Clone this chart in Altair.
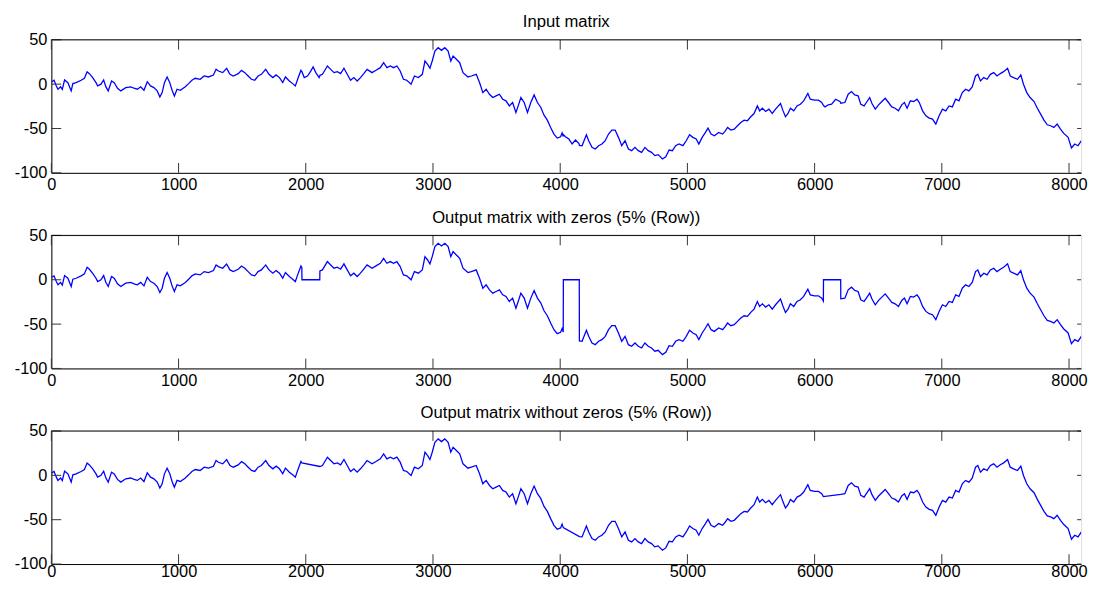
import altair as alt
import pandas as pd

# ---- data (sample index, value) ----
T = [0, 21, 39, 52, 73, 86, 104, 130, 156, 169, 195, 234, 260, 281, 299, 325, 351, 364, 390, 411,
     429, 447, 473, 494, 520, 546, 585, 624, 650, 676, 702, 728, 754, 780, 806, 832, 853, 871, 889, 910,
     931, 949, 967, 988, 1014, 1053, 1079, 1105, 1131, 1170, 1201, 1235, 1274, 1295, 1313, 1347, 1378,
     1404, 1430, 1469, 1495, 1521, 1547, 1573, 1599, 1625, 1651, 1685, 1711, 1741, 1767, 1793, 1819,
     1840, 1871, 1897, 1918, 1936, 1962, 1969, 1970, 1988, 2014, 2040, 2058, 2079, 2105, 2110, 2111,
     2131, 2170, 2196, 2222, 2248, 2274, 2300, 2326, 2352, 2378, 2404, 2430, 2456, 2482, 2521, 2552,
     2586, 2612, 2638, 2664, 2690, 2716, 2742, 2768, 2794, 2828, 2854, 2885, 2916, 2937, 2958, 2976,
     2994, 3015, 3041, 3067, 3093, 3119, 3140, 3158, 3184, 3210, 3236, 3275, 3301, 3340, 3366, 3392,
     3418, 3444, 3470, 3496, 3522, 3548, 3574, 3600, 3626, 3652, 3670, 3691, 3717, 3743, 3769, 3795,
     3821, 3847, 3873, 3899, 3925, 3951, 3977, 4003, 4015, 4024, 4025, 4042, 4068, 4094, 4120, 4146,
     4150, 4151, 4172, 4206, 4224, 4250, 4276, 4302, 4328, 4354, 4380, 4406, 4432, 4458, 4484, 4510,
     4536, 4562, 4588, 4614, 4640, 4666, 4692, 4718, 4744, 4770, 4804, 4830, 4856, 4882, 4908, 4934,
     4965, 4991, 5017, 5043, 5069, 5090, 5116, 5142, 5162, 5186, 5212, 5246, 5277, 5298, 5316, 5342,
     5368, 5394, 5420, 5446, 5472, 5498, 5524, 5550, 5568, 5589, 5615, 5641, 5667, 5693, 5732, 5750,
     5771, 5791, 5810, 5836, 5862, 5888, 5914, 5947, 5966, 5999, 6030, 6056, 6069, 6070, 6082, 6108,
     6134, 6165, 6199, 6205, 6206, 6238, 6264, 6290, 6316, 6342, 6363, 6389, 6407, 6433, 6451, 6477,
     6503, 6529, 6555, 6581, 6607, 6633, 6659, 6685, 6706, 6727, 6753, 6779, 6805, 6823, 6849, 6875,
     6901, 6927, 6953, 6979, 7005, 7031, 7057, 7083, 7109, 7135, 7161, 7187, 7213, 7239, 7265, 7283,
     7304, 7330, 7356, 7382, 7408, 7434, 7460, 7486, 7517, 7538, 7564, 7595, 7621, 7642, 7668, 7694,
     7725, 7751, 7777, 7803, 7829, 7855, 7881, 7907, 7933, 7959, 7993, 8019, 8045, 8071, 8097, 8123,
     8141, 8157, 8191]
V = [2.5, 4.4, -2, -5.7, -3, -6, 4.7, 1.7, -7.6, 0.6, 1.7, 4.4, 6.6, 14, 11.8, 7.3, 1.7, -2, 0, 4.7,
     -3.1, -7.6, 3.6, 1.7, -4.6, -7.6, -3.9, -3, -4.6, -5.7, -3, -6.9, 2.8, -2, -3.9, -7.6, -14.4, -9.5, 1.7, 8.1,
     1.7, -6.9, -13.3, -5.7, -6.9, -3, 0.6, 4.4, 6.6, 5.5, 9.2, 8.1, 10.3, 16.7, 14.8, 13, 17.8,
     11.1, 9.2, 11.8, 15.5, 13, 9.2, 5.5, 4.4, 9.2, 11.1, 16.7, 11.1, 7.4, 10.4, 7.4, 1.8,
     8.1, 3.6, 0.6, -2, 5.5, 15.6, 14, 14, 7.4, 9.2, 14.9, 19.4, 13, 7.4, 9, 10,
     11.1, 20.5, 16.7, 13, 14.1, 11.9, 17.9, 11.1, 4.4, 7.4, 3.6, 7.4, 11.9, 16.7, 13, 15.6,
     18.6, 24.2, 18.6, 20.5, 18.6, 20.5, 14.9, 5.5, 4.4, -0.1, 9.2, 7.4, 11.1, 26.1, 22.3, 17.9,
     26.1, 37.3, 41.1, 38.1, 41.1, 37.3, 26.1, 31.7, 28, 24.2, 13, 8.1, 9.2, 11.1, 1.8, -9.5,
     -5.7, -11.4, -15.1, -13.2, -11.4, -17, -18.8, -24.5, -20.7, -32, -24.5, -15.1, -20.7, -32, -20.7, -12.1,
     -20.7, -26, -35, -40.6, -48.8, -56.3, -60.8, -59.3, -55, -59, -57, -59.3, -61.9, -67.5, -63, -66.8,
     -68, -69, -69.4, -57, -63.8, -71.3, -73.2, -69.4, -67.5, -63.8, -56.3, -51.8, -51.8, -60, -69.4, -63.8,
     -73.2, -75, -71.3, -75, -76.9, -71.3, -75, -76.9, -80.6, -79.5, -84.4, -81.8, -74.3, -75, -69.4, -67.5,
     -69.4, -63.8, -57, -60, -61.9, -67.5, -60, -54.4, -49.6, -56.3, -58.2, -54.4, -56.3, -52.6, -48.8, -51.8,
     -50.7, -46.9, -43.2, -40.6, -41.3, -36.8, -33.1, -24.5, -30.1, -27.1, -30.8, -28.2, -33.1, -28.2, -21.8, -29.3,
     -36.8, -33.1, -27.1, -30.1, -24.5, -22.6, -18.8, -10.6, -17, -18.1, -18.1, -20.7, -24, -24, -25.6, -23.3,
     -22.6, -17, -19.6, -21, -21.5, -20.7, -11.4, -8.4, -12.1, -13.2, -22.6, -24.5, -20.7, -15.1, -21.8, -28.2,
     -23.3, -19.6, -15.9, -20.7, -25.6, -27.1, -30.1, -23.3, -20.7, -27.1, -18.8, -19.6, -17, -20.7, -30.1, -35.7,
     -38.3, -39.4, -45, -35.7, -28.2, -30.1, -24.5, -25.6, -17, -18.8, -9.5, -5.7, -7.6, -3.1, 9.2, 11.1,
     3.6, 7.4, 5.5, 11.1, 13, 9.2, 11.9, 14.1, 17.9, 9.2, 7.4, 5.5, 10.4, -0.1, -9.5, -15.1,
     -19.6, -27.1, -33.8, -40.6, -45.8, -46.9, -48.8, -45, -50.7, -55.5, -60, -72, -67.5, -69.4, -63.8, -71.3,
     -65.7, -67.5, -66]

GAP_START = [1970, 4025, 6070]   # rows set to zero (5 %)
GAP_END = [2110, 4150, 6205]

TITLES = ["Input matrix",
          "Output matrix with zeros (5% (Row))",
          "Output matrix without zeros (5% (Row))"]
X_TICKS = [0, 1000, 2000, 3000, 4000, 5000, 6000, 7000, 8000]
Y_TICKS = [-100, -50, 0, 50]


def in_gap(t):
    return any(s <= t <= e for s, e in zip(GAP_START, GAP_END))


df_in = pd.DataFrame({"t": T, "v": V})
df_zero = pd.DataFrame({"t": T, "v": [0 if in_gap(t) else v for t, v in zip(T, V)]})
keep = [not in_gap(t) for t in T]
df_drop = pd.DataFrame({"t": [t for t, k in zip(T, keep) if k],
                        "v": [v for v, k in zip(V, keep) if k]})

W, H = 1045, 135
FONT = "Liberation Sans"
xs = alt.Scale(domain=[0, 8095], nice=False, zero=False)
ys = alt.Scale(domain=[-100, 50], nice=False, zero=False)


def xaxis(pad):
    return alt.Axis(values=X_TICKS, title=None, grid=False, ticks=False, tickSize=0, domain=True,
                    domainColor="black", labelFontSize=16.6, labelPadding=pad, labelColor="black",
                    labelFont=FONT, labelFlush=False, labelOverlap=False,
                    labelExpr="'' + datum.value")


yaxis = alt.Axis(values=Y_TICKS, title=None, grid=False, ticks=False, tickSize=0, domain=True,
                 domainColor="black", labelFontSize=16.6, labelPadding=4.5, labelColor="black",
                 labelFont=FONT, labelOverlap=False, labelExpr="'' + datum.value")

xtick_df = pd.DataFrame({"t": X_TICKS})
ytick_df = pd.DataFrame({"v": Y_TICKS})


def panel(df, title, lab_pad):
    xa = xaxis(lab_pad)
    line = alt.Chart(df).mark_line(color="#0000ff", strokeWidth=1.3, clip=True).encode(
        x=alt.X("t:Q", scale=xs, axis=xa),
        y=alt.Y("v:Q", scale=ys, axis=yaxis),
    )
    xt_bot = alt.Chart(xtick_df).mark_rule(color="#333333").encode(
        x=alt.X("t:Q", scale=xs, axis=xa), y=alt.value(H - 10), y2=alt.value(H))
    xt_top = alt.Chart(xtick_df).mark_rule(color="#333333").encode(
        x=alt.X("t:Q", scale=xs, axis=xa), y=alt.value(0), y2=alt.value(10))
    yt_left = alt.Chart(ytick_df).mark_rule(color="#333333").encode(
        y=alt.Y("v:Q", scale=ys, axis=yaxis), x=alt.value(0), x2=alt.value(10))
    yt_right = alt.Chart(ytick_df).mark_rule(color="#333333").encode(
        y=alt.Y("v:Q", scale=ys, axis=yaxis), x=alt.value(W - 4), x2=alt.value(W))
    top_border = alt.Chart(ytick_df.head(1)).mark_rule(color="black").encode(
        x=alt.value(0), x2=alt.value(W), y=alt.value(0))
    return alt.layer(line, xt_bot, xt_top, yt_left, yt_right, top_border).properties(
        width=W, height=H,
        title=alt.TitleParams(title, fontSize=16.9, font=FONT, fontWeight="normal",
                              color="black", offset=1, anchor="middle"))


chart = alt.vconcat(panel(df_in, TITLES[0], 4.4), panel(df_zero, TITLES[1], 4.4),
                    panel(df_drop, TITLES[2], 0),
                    spacing=63.5, bounds="flush").properties(
    padding={"left": 5, "top": 0, "right": 0, "bottom": 0}
).configure_view(stroke=None).configure(background="white")

chart.save("out.html", embed_options={"renderer": "svg", "actions": False})
